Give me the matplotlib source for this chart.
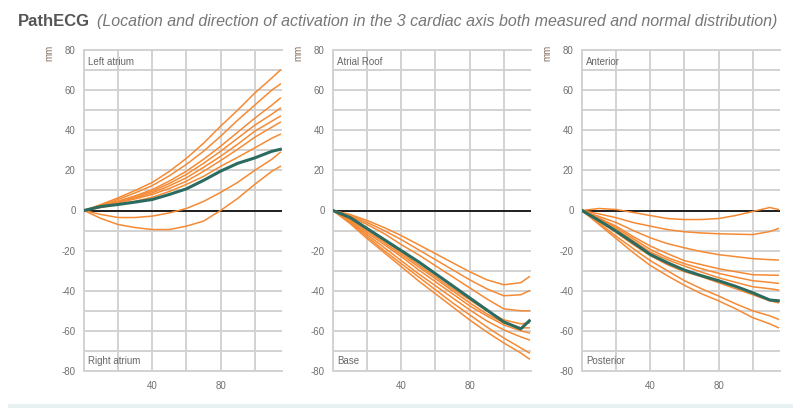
import matplotlib
matplotlib.use("Agg")
import matplotlib.pyplot as plt
from matplotlib.ticker import MultipleLocator, FixedLocator, FuncFormatter

plt.rcParams['font.family'] = ['Liberation Sans', 'DejaVu Sans']
plt.rcParams['axes.unicode_minus'] = False

# sample positions (x, mm) shared by all curves
x_pos = [0, 10, 20, 30, 40, 50, 60, 70, 80, 90, 100, 110, 115]

# panel 1: Left atrium / Right atrium
la_normal = [
    [0, 3.0, 6.3, 10.0, 14.0, 19.5, 26.0, 33.5, 42.0, 50.0, 58.5, 66.0, 70.0],
    [0, 2.7, 5.5, 8.8, 12.4, 17.3, 23.0, 29.5, 37.0, 45.0, 52.5, 60.0, 63.0],
    [0, 2.2, 4.6, 7.3, 10.4, 14.7, 19.6, 25.5, 32.0, 39.0, 46.0, 52.5, 56.0],
    [0, 2.2, 4.6, 7.0, 9.6, 13.5, 18.0, 23.5, 29.5, 36.0, 42.5, 48.0, 51.0],
    [0, 2.0, 4.1, 6.3, 8.8, 12.3, 16.3, 21.5, 27.0, 33.0, 39.5, 44.5, 47.0],
    [0, 1.9, 3.8, 5.8, 8.0, 11.0, 14.6, 19.5, 24.9, 30.5, 36.5, 41.5, 44.0],
    [0, 1.5, 3.0, 4.6, 6.6, 9.5, 13.0, 17.0, 22.0, 26.5, 31.2, 36.0, 38.0],
    [0, -2.0, -3.5, -3.5, -2.8, -1.2, 1.0, 4.5, 9.0, 14.0, 20.0, 25.5, 29.0],
    [0, -4.0, -7.0, -8.5, -9.5, -9.5, -7.8, -5.3, 0.0, 6.0, 13.0, 19.5, 22.0],
]
la_measured = [0, 2.0, 3.0, 4.2, 5.5, 8.0, 10.8, 15.0, 19.6, 23.5, 26.2, 29.5, 30.5]

# panel 2: Atrial Roof / Base
roof_normal = [
    [0, -2.0, -5.0, -8.5, -12.5, -17.0, -21.5, -26.0, -30.5, -34.5, -37.0, -36.0, -33.0],
    [0, -2.5, -6.0, -10.0, -14.5, -19.5, -24.5, -29.5, -34.5, -39.0, -42.5, -42.0, -40.0],
    [0, -3.0, -7.0, -11.5, -17.0, -22.0, -27.5, -33.0, -38.5, -44.0, -49.0, -50.0, -50.0],
    [0, -4.0, -9.5, -15.0, -21.0, -27.0, -33.0, -39.0, -44.5, -50.0, -54.5, -56.5, -56.0],
    [0, -4.5, -10.0, -16.0, -22.0, -28.0, -34.0, -40.0, -46.0, -51.5, -56.0, -58.5, -58.5],
    [0, -5.0, -11.0, -17.0, -23.0, -29.5, -35.5, -41.5, -47.5, -52.5, -57.0, -60.0, -61.0],
    [0, -5.5, -12.0, -18.5, -25.0, -31.5, -37.5, -43.5, -49.5, -55.0, -59.5, -63.0, -64.5],
    [0, -6.0, -13.0, -20.0, -26.5, -33.0, -39.5, -46.0, -52.0, -58.0, -63.5, -68.5, -71.0],
    [0, -6.5, -14.0, -21.0, -28.0, -35.0, -41.5, -48.0, -54.5, -60.5, -66.0, -71.0, -74.0],
]
roof_measured = [0, -3.5, -9.0, -14.5, -20.0, -25.5, -31.5, -37.5, -43.5, -49.5, -55.5, -59.0, -55.0]

# panel 3: Anterior / Posterior
ant_normal = [
    [0, 1.0, 0.5, -1.0, -2.5, -4.0, -4.5, -4.5, -4.0, -2.5, -0.5, 1.5, 0.5],
    [0, -1.7, -3.6, -6.0, -7.8, -9.5, -10.6, -11.2, -11.6, -11.8, -12.0, -10.5, -9.0],
    [0, -3.0, -6.0, -10.0, -13.6, -16.5, -18.6, -20.5, -22.0, -23.0, -24.0, -24.5, -24.7],
    [0, -3.8, -7.8, -13.0, -17.7, -21.5, -25.0, -27.0, -29.0, -30.5, -32.0, -32.2, -32.3],
    [0, -4.2, -8.6, -14.0, -19.4, -23.5, -26.5, -29.0, -31.3, -33.2, -35.0, -35.8, -36.3],
    [0, -4.7, -9.5, -15.0, -20.7, -24.5, -27.7, -30.7, -33.5, -35.8, -38.0, -39.0, -39.6],
    [0, -5.3, -11.0, -17.0, -22.5, -27.0, -30.5, -33.0, -36.0, -39.0, -42.0, -45.0, -46.0],
    [0, -6.3, -12.8, -19.0, -25.0, -30.0, -35.0, -39.0, -42.6, -46.5, -50.0, -52.5, -54.2],
    [0, -7.0, -14.0, -21.0, -27.4, -32.5, -37.3, -41.5, -45.0, -49.0, -53.4, -56.5, -58.4],
]
ant_measured = [0, -5.0, -10.3, -16.0, -21.9, -26.0, -29.7, -32.5, -35.0, -37.8, -41.0, -44.6, -45.0]

top_labels = ["Left atrium", "Atrial Roof", "Anterior"]
bottom_labels = ["Right atrium", "Base", "Posterior"]
y_ticks = [-80, -60, -40, -20, 0, 20, 40, 60, 80]
x_labelled = [40, 80]

ORANGE = '#F58A34'
GREEN = '#2B6B60'
GRID = '#d2d2d2'
TXT = '#707070'

W, H = 793, 409
fig = plt.figure(figsize=(W / 100, H / 100), dpi=100)

panels = [(la_normal, la_measured), (roof_normal, roof_measured), (ant_normal, ant_measured)]
lefts = [84, 333, 582]

for i, (normal, measured) in enumerate(panels):
    ax = fig.add_axes([lefts[i] / W, 1 - 371 / H, 198 / W, 321 / H])
    ax.set_xlim(0, 116)
    ax.set_ylim(-80, 80)

    # grid
    ax.yaxis.set_major_locator(FixedLocator(y_ticks))
    ax.yaxis.set_minor_locator(MultipleLocator(10))
    ax.xaxis.set_major_locator(MultipleLocator(20))
    ax.xaxis.set_major_formatter(FuncFormatter(lambda v, p: f"{v:.0f}" if v in x_labelled else ""))
    ax.grid(True, which='both', color=GRID, linewidth=1.4)
    ax.set_axisbelow(True)
    ax.tick_params(which='both', length=0, labelsize=7, colors=TXT)
    ax.tick_params(axis='y', pad=6)
    ax.tick_params(axis='x', pad=7)
    for side in ['left', 'top', 'bottom']:
        ax.spines[side].set_color(GRID)
        ax.spines[side].set_linewidth(1.4)
    ax.spines['right'].set_visible(False)

    ax.axhline(0, color='#111111', linewidth=1.3, zorder=2)
    for ys in normal:
        ax.plot(x_pos, ys, color=ORANGE, linewidth=1.1, zorder=3)
    ax.plot(x_pos, measured, color=GREEN, linewidth=2.2, zorder=4)

    ax.text(0.02, 0.962, top_labels[i], transform=ax.transAxes, fontsize=7,
            color='#666666', ha='left', va='center')
    ax.text(0.02, 0.030, bottom_labels[i], transform=ax.transAxes, fontsize=7,
            color='#666666', ha='left', va='center')

    fig.text((lefts[i] - 35) / W, 1 - 53 / H, "mm", rotation=90, fontsize=7,
             color='#8a7262', ha='center', va='center')

fig.text(18 / W, 1 - 21.5 / H, "PathECG", fontsize=12, fontweight='bold',
         color='#555555', ha='left', va='center')
fig.text(97 / W, 1 - 21.5 / H,
         "(Location and direction of activation in the 3 cardiac axis both measured and normal distribution)",
         fontsize=11.55, style='italic', color='#777777', ha='left', va='center')

# faint page edge at the bottom
fig.add_artist(plt.Line2D([10 / W, 1], [3 / H, 3 / H], transform=fig.transFigure,
                          color='#e8f1f1', linewidth=3))

fig.savefig("out.png", dpi=100)
